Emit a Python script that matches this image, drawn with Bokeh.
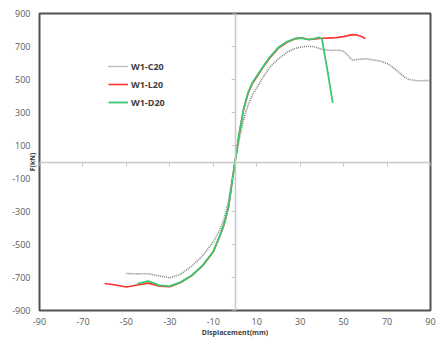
import numpy as np
from bokeh.plotting import figure
from bokeh.models import (FixedTicker, LinearAxis, Range1d, Legend, LegendItem)
from bokeh.embed import file_html
from bokeh.resources import INLINE

# ---- data ----
x_ticks = [-90, -70, -50, -30, -10, 10, 30, 50, 70, 90]
y_ticks = [-900, -700, -500, -300, -100, 100, 300, 500, 700, 900]

c20_x = [-50, -45, -40, -35, -30, -25, -20, -15, -10, -7, -5, -3, 0, 2, 4, 6, 8, 10, 13, 16,
         20, 24, 28, 32, 36, 40, 44, 48, 50, 52, 54, 57, 60, 64, 68, 71, 74, 77, 80, 84, 90]
c20_y = [-676, -678, -677, -690, -702, -680, -632, -570, -485, -412, -345, -240, 0, 140, 260, 345,
         405, 450, 515, 575, 625, 665, 690, 700, 700, 683, 676, 678, 670, 645, 618, 622, 626,
         618, 608, 590, 560, 525, 500, 492, 494]

l20_x = [-60, -55, -50, -45, -40, -35, -30, -25, -20, -15, -10, -7, -5, -3, 0, 2, 4, 6, 8, 10,
         13, 16, 20, 24, 28, 31, 34, 37, 40, 45, 50, 54, 56, 58, 60]
l20_y = [-736, -745, -758, -745, -734, -752, -756, -730, -690, -630, -545, -450, -378, -275, 0,
         175, 320, 415, 475, 515, 575, 630, 690, 725, 748, 752, 742, 746, 750, 752, 760, 772,
         770, 762, 748]

d20_x = [-45, -42, -40, -37, -35, -30, -25, -20, -15, -10, -7, -5, -3, 0, 2, 4, 6, 8, 10,
         13, 16, 20, 24, 28, 31, 34, 36.5, 38.5, 40, 42.5, 45]
d20_y = [-738, -728, -722, -735, -748, -752, -728, -688, -628, -542, -448, -375, -272, 0,
         178, 325, 420, 480, 520, 580, 636, 695, 730, 750, 750, 742, 748, 755, 748, 560, 358]

names = ["W1-C20", "W1-L20", "W1-D20"]

FONT = "Open Sans"

p = figure(width=438, height=339, output_backend="svg", toolbar_location=None,
           x_range=Range1d(-90, 90), y_range=Range1d(-900, 900),
           min_border_left=39, min_border_right=8, min_border_top=13, min_border_bottom=26,
           x_axis_location=None, y_axis_location=None)
p.xgrid.visible = False
p.ygrid.visible = False
p.outline_line_color = "#505050"
p.outline_line_width = 2
p.background_fill_color = "white"
p.border_fill_color = "white"

# label axes at the edges
def label_axis(ax, ticks):
    ax.ticker = FixedTicker(ticks=ticks)
    ax.major_label_overrides = {t: str(t) for t in ticks}
    ax.axis_line_color = None
    ax.major_tick_line_color = None
    ax.minor_tick_line_color = None
    ax.major_tick_out = 0
    ax.major_tick_in = 0
    ax.major_label_text_font = FONT
    ax.major_label_text_font_size = "9px"
    ax.major_label_text_color = "#595959"
    return ax

yl = label_axis(LinearAxis(), y_ticks)
yl.major_label_standoff = 9
yl.axis_label = "F(kN)"
yl.axis_label_text_font = FONT
yl.axis_label_text_font_size = "7px"
yl.axis_label_text_font_style = "bold"
yl.axis_label_text_color = "#404040"
yl.axis_label_standoff = -28
p.add_layout(yl, "left")

xl = label_axis(LinearAxis(), x_ticks)
xl.major_label_standoff = 7
xl.axis_label = "Displacement(mm)"
xl.axis_label_text_font = FONT
xl.axis_label_text_font_size = "7px"
xl.axis_label_text_font_style = "bold"
xl.axis_label_text_color = "#404040"
xl.axis_label_standoff = 0
p.add_layout(xl, "below")

# zero axes (through origin) with ticks only
def zero_axis(ax, ticks):
    ax.ticker = FixedTicker(ticks=ticks)
    ax.fixed_location = 0
    ax.axis_line_color = "#c8c8c8"
    ax.axis_line_width = 1.5
    ax.major_tick_line_color = "#c8c8c8"
    ax.major_tick_line_width = 1
    ax.minor_tick_line_color = None
    ax.major_tick_in = 4
    ax.major_tick_out = 0
    ax.major_label_text_font_size = "0px"
    ax.major_label_text_color = None
    ax.major_label_standoff = 0
    return ax

p.add_layout(zero_axis(LinearAxis(), y_ticks), "right")
p.add_layout(zero_axis(LinearAxis(), x_ticks), "above")

# curves
r1 = p.line(c20_x, c20_y, line_color="#808080", line_width=1.6, line_dash="1 1")
r2 = p.line(l20_x, l20_y, line_color="#ff3030", line_width=1.6)
r3 = p.line(d20_x, d20_y, line_color="#3cc86e", line_width=1.8)

legend = Legend(items=[LegendItem(label=names[0], renderers=[r1]),
                       LegendItem(label=names[1], renderers=[r2]),
                       LegendItem(label=names[2], renderers=[r3])],
                location=(69, 201), glyph_width=20, glyph_height=14, spacing=4,
                padding=0, margin=0, border_line_color=None, background_fill_alpha=0,
                label_text_font=FONT, label_text_font_size="9px", label_text_font_style="bold",
                label_text_color="#404040", label_standoff=3)
p.add_layout(legend, "center")

open("out.html", "w").write(file_html(p, INLINE))
